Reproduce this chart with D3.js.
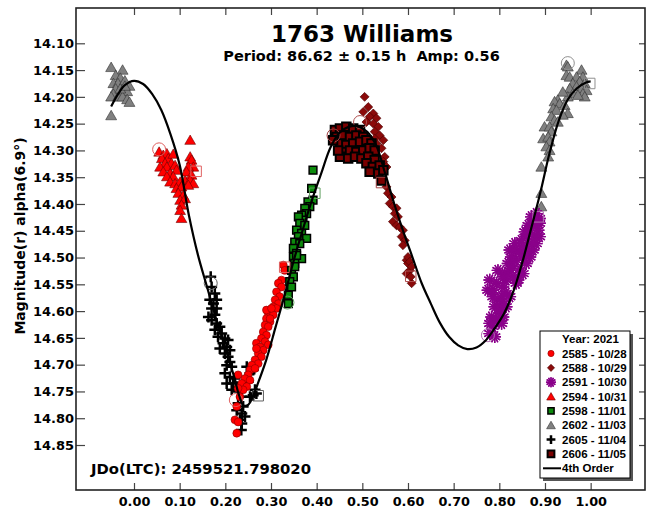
<!DOCTYPE html>
<html><head><meta charset="utf-8">
<script src="https://cdn.jsdelivr.net/npm/d3@7"></script>
<style>body{margin:0;background:#fff}svg{display:block}text{white-space:pre}</style>
</head><body><svg id="c" width="650" height="509"></svg>
<script>
// ---------- texts ----------
const titleText = "1763 Williams";
const subtitleText = "Period: 86.62 ± 0.15 h  Amp: 0.56";
const jdText = "JDo(LTC): 2459521.798020";
const yLabelText = "Magnitude(r) alpha(6.9°)";
const legendTitle = "Year: 2021";
const fitLabel = "4th Order";
const xTicks = [0,0.1,0.2,0.3,0.4,0.5,0.6,0.7,0.8,0.9,1.0];
const yTicks = [14.10,14.15,14.20,14.25,14.30,14.35,14.40,14.45,14.50,14.55,14.60,14.65,14.70,14.75,14.80,14.85];
const seriesNames = ["2585 - 10/28","2588 - 10/29","2591 - 10/30","2594 - 10/31","2598 - 11/01","2602 - 11/03","2605 - 11/04","2606 - 11/05"];

// ---------- data [phase, magnitude] ----------
const s2585 = [[0.327,14.514],[0.330,14.524],[0.323,14.542],[0.316,14.548],[0.323,14.555],[0.312,14.564],[0.319,14.573],[0.309,14.579],[0.316,14.586],[0.305,14.592],[0.312,14.595],[0.298,14.601],[0.294,14.604],[0.305,14.607],[0.290,14.614],[0.298,14.620],[0.287,14.626],[0.294,14.629],[0.283,14.639],[0.290,14.645],[0.279,14.651],[0.287,14.657],[0.268,14.660],[0.276,14.667],[0.294,14.663],[0.283,14.673],[0.272,14.679],[0.279,14.685],[0.265,14.691],[0.272,14.698],[0.258,14.701],[0.254,14.710],[0.265,14.707],[0.250,14.719],[0.243,14.726],[0.254,14.729],[0.236,14.735],[0.228,14.719],[0.247,14.741],[0.239,14.747],[0.228,14.744],[0.232,14.760],[0.225,14.778],[0.221,14.803],[0.228,14.807],[0.225,14.828],[0.290,14.598],[0.301,14.595],[0.298,14.614],[0.268,14.670]];
const s2588 = [[0.505,14.200],[0.513,14.219],[0.524,14.231],[0.502,14.228],[0.516,14.237],[0.531,14.240],[0.509,14.247],[0.524,14.250],[0.535,14.256],[0.527,14.265],[0.538,14.272],[0.546,14.281],[0.531,14.287],[0.542,14.296],[0.549,14.312],[0.546,14.321],[0.553,14.331],[0.553,14.368],[0.556,14.380],[0.564,14.387],[0.560,14.399],[0.567,14.405],[0.575,14.408],[0.571,14.418],[0.578,14.424],[0.567,14.433],[0.575,14.440],[0.582,14.443],[0.589,14.449],[0.586,14.461],[0.593,14.468],[0.589,14.477],[0.597,14.505],[0.600,14.511],[0.604,14.524],[0.597,14.530],[0.608,14.548],[0.600,14.499],[0.604,14.508],[0.608,14.517],[0.606,14.536],[0.527,14.278],[0.487,14.281],[0.502,14.287],[0.480,14.268],[0.495,14.300],[0.516,14.305]];
const s2591 = [[0.779,14.642],[0.786,14.629],[0.794,14.617],[0.783,14.611],[0.801,14.604],[0.790,14.592],[0.797,14.579],[0.805,14.573],[0.786,14.561],[0.794,14.548],[0.808,14.555],[0.815,14.542],[0.812,14.530],[0.823,14.524],[0.819,14.511],[0.830,14.517],[0.837,14.505],[0.826,14.499],[0.845,14.492],[0.837,14.486],[0.852,14.480],[0.848,14.468],[0.859,14.461],[0.856,14.452],[0.867,14.449],[0.863,14.440],[0.874,14.436],[0.881,14.430],[0.870,14.424],[0.888,14.427],[0.881,14.418],[0.779,14.542],[0.775,14.561],[0.786,14.573],[0.808,14.586],[0.801,14.598],[0.815,14.567],[0.830,14.536],[0.841,14.542],[0.845,14.524],[0.856,14.499],[0.863,14.486],[0.870,14.474],[0.877,14.461],[0.885,14.449],[0.888,14.436],[0.808,14.536],[0.797,14.524],[0.823,14.486],[0.834,14.474],[0.779,14.623],[0.790,14.648],[0.805,14.623],[0.808,14.611],[0.815,14.592],[0.823,14.573],[0.837,14.548],[0.852,14.530],[0.859,14.511],[0.867,14.499],[0.874,14.486],[0.881,14.474],[0.888,14.461]];
const s2594 = [[0.055,14.303],[0.064,14.309],[0.072,14.306],[0.061,14.315],[0.075,14.315],[0.086,14.307],[0.068,14.324],[0.082,14.324],[0.057,14.331],[0.072,14.331],[0.090,14.328],[0.064,14.340],[0.079,14.343],[0.093,14.337],[0.086,14.349],[0.072,14.349],[0.079,14.359],[0.090,14.362],[0.101,14.359],[0.112,14.356],[0.093,14.371],[0.104,14.368],[0.097,14.380],[0.108,14.384],[0.101,14.393],[0.112,14.390],[0.104,14.402],[0.101,14.412],[0.104,14.427],[0.123,14.281],[0.123,14.312],[0.126,14.318],[0.130,14.331],[0.119,14.331],[0.115,14.340],[0.126,14.346],[0.123,14.356],[0.130,14.362],[0.119,14.365]];
const s2598 = [[0.392,14.337],[0.389,14.371],[0.392,14.393],[0.381,14.396],[0.385,14.405],[0.374,14.408],[0.378,14.418],[0.367,14.421],[0.370,14.430],[0.360,14.424],[0.363,14.436],[0.374,14.440],[0.356,14.449],[0.367,14.455],[0.360,14.461],[0.378,14.464],[0.352,14.471],[0.363,14.474],[0.349,14.483],[0.356,14.492],[0.367,14.502],[0.349,14.499],[0.352,14.511],[0.345,14.524],[0.349,14.536],[0.341,14.545],[0.345,14.555],[0.356,14.496],[0.352,14.517],[0.338,14.570],[0.338,14.586]];
const s2602 = [[-0.05,14.145],[-0.025,14.150],[-0.04,14.160],[-0.03,14.165],[-0.045,14.175],[-0.035,14.175],[-0.02,14.170],[-0.01,14.180],[-0.04,14.185],[-0.03,14.190],[-0.045,14.195],[-0.015,14.190],[-0.05,14.200],[-0.035,14.200],[-0.025,14.200],[-0.015,14.205],[-0.01,14.210],[-0.05,14.235],[-0.03,14.185],[-0.02,14.180],
  [0.947,14.141],[0.950,14.144],[0.980,14.150],[0.947,14.160],[0.954,14.163],[0.969,14.163],[0.983,14.163],[0.976,14.172],[0.961,14.175],[0.987,14.175],[0.969,14.181],[0.980,14.185],[0.991,14.188],[0.983,14.194],[0.954,14.185],[0.961,14.194],[0.950,14.200],[0.939,14.191],[0.928,14.206],[0.921,14.209],[0.932,14.213],[0.943,14.216],[0.918,14.222],[0.925,14.225],[0.950,14.231],[0.939,14.234],[0.914,14.237],[0.921,14.244],[0.928,14.247],[0.899,14.256],[0.910,14.256],[0.914,14.265],[0.896,14.278],[0.907,14.275],[0.910,14.284],[0.903,14.293],[0.910,14.300],[0.907,14.312],[0.892,14.331],[0.892,14.380],[0.892,14.405],[0.987,14.200],[0.972,14.197]];
const s2605 = [[0.168,14.536],[0.170,14.555],[0.177,14.567],[0.166,14.579],[0.174,14.586],[0.181,14.579],[0.170,14.595],[0.181,14.595],[0.163,14.611],[0.177,14.607],[0.170,14.617],[0.181,14.623],[0.188,14.629],[0.177,14.635],[0.192,14.642],[0.184,14.648],[0.199,14.651],[0.206,14.654],[0.195,14.660],[0.203,14.667],[0.188,14.670],[0.210,14.673],[0.199,14.679],[0.206,14.685],[0.210,14.695],[0.203,14.701],[0.214,14.704],[0.199,14.716],[0.210,14.723],[0.221,14.726],[0.203,14.735],[0.217,14.735],[0.225,14.741],[0.214,14.747],[0.228,14.750],[0.239,14.738],[0.250,14.732],[0.254,14.716],[0.261,14.710],[0.247,14.704],[0.265,14.747],[0.268,14.754],[0.236,14.760],[0.228,14.772],[0.239,14.778],[0.225,14.785],[0.236,14.791],[0.243,14.797],[0.232,14.803],[0.236,14.810],[0.254,14.760],[0.261,14.757],[0.235,14.822]];
const s2606 = [[0.440,14.262],[0.451,14.259],[0.465,14.256],[0.480,14.259],[0.495,14.262],[0.444,14.275],[0.458,14.272],[0.473,14.275],[0.487,14.272],[0.502,14.275],[0.451,14.287],[0.465,14.290],[0.480,14.287],[0.495,14.284],[0.509,14.281],[0.520,14.287],[0.458,14.303],[0.473,14.300],[0.487,14.303],[0.502,14.300],[0.516,14.296],[0.527,14.300],[0.451,14.312],[0.469,14.315],[0.484,14.312],[0.498,14.315],[0.513,14.312],[0.527,14.318],[0.509,14.324],[0.523,14.331],[0.538,14.328],[0.516,14.340],[0.535,14.343],[0.546,14.337],[0.542,14.356],[0.436,14.281],[0.447,14.300]];
// start (circle) / end (square) session markers
const startMarks = [[0.223,14.766],[0.495,14.247],[0.775,14.645],[0.055,14.298],[0.336,14.584],[0.950,14.137],[0.168,14.548],[0.437,14.272]];
const endMarks = [[0.330,14.518],[0.606,14.535],[0.885,14.424],[0.136,14.339],[0.396,14.380],[0.998,14.175],[0.272,14.758],[0.542,14.360]];
// 4th order Fourier fit
const fitCurve = [[-0.05,14.218],[-0.035,14.195],[-0.02,14.178],[0.0,14.170],[0.02,14.176],[0.04,14.195],[0.06,14.225],[0.08,14.27],[0.10,14.327],[0.12,14.42],[0.14,14.495],[0.16,14.555],[0.18,14.615],[0.20,14.668],[0.22,14.725],[0.23,14.757],[0.24,14.776],[0.25,14.775],[0.26,14.76],[0.27,14.738],[0.29,14.69],[0.31,14.63],[0.33,14.57],[0.35,14.505],[0.37,14.447],[0.39,14.392],[0.41,14.343],[0.43,14.295],[0.45,14.267],[0.47,14.256],[0.49,14.255],[0.51,14.265],[0.53,14.29],[0.55,14.343],[0.57,14.40],[0.59,14.452],[0.61,14.50],[0.63,14.548],[0.65,14.586],[0.67,14.622],[0.69,14.648],[0.71,14.664],[0.73,14.671],[0.75,14.668],[0.77,14.655],[0.79,14.632],[0.81,14.605],[0.83,14.565],[0.85,14.51],[0.87,14.445],[0.89,14.378],[0.91,14.305],[0.93,14.245],[0.95,14.205],[0.97,14.184],[0.99,14.173],[1.00,14.171]];

// ---------- styles ----------
const styles = [
  {sym:"circle", fill:"#ff0000", stroke:"#8a0000", sw:0.6, size:48, hollow:"#e06060"},
  {sym:"diamond", fill:"#8b0a0a", stroke:"#4a0000", sw:0.6, size:40, hollow:"#b05050"},
  {sym:"asterisk", fill:"none", stroke:"#8a008a", sw:1.4, size:110, hollow:"#b070b0"},
  {sym:"triangle", fill:"#ff0000", stroke:"#700000", sw:0.6, size:50, hollow:"#e06060"},
  {sym:"square", fill:"#0c8a0c", stroke:"#000", sw:1.5, size:60, hollow:"#60a060"},
  {sym:"triangle", fill:"#808080", stroke:"#333", sw:0.6, size:52, hollow:"#909090"},
  {sym:"plus", fill:"none", stroke:"#000", sw:2.5, size:11, hollow:"#606060"},
  {sym:"square", fill:"#7a0000", stroke:"#000", sw:2, size:72, hollow:"#a04040"}
];
const allSeries = [s2585, s2588, s2591, s2594, s2598, s2602, s2605, s2606];

const svg = d3.select("#c");
const L=76, R=645, T=8, B=490;
const x = d3.scaleLinear().domain([-0.127,1.119]).range([L,R]);
const y = d3.scaleLinear().domain([14.0341,14.934]).range([T,B]);

function drawSym(g, st, scale){
  scale = scale||1;
  if(st.sym==="plus"){
    const h = st.size/2*scale;
    g.append("path").attr("d",`M${-h},0H${h}M0,${-h}V${h}`).attr("stroke",st.stroke).attr("stroke-width",st.sw).attr("fill","none");
  } else if(st.sym==="asterisk"){
    const p = d3.symbol(d3.symbolAsterisk, st.size*scale*scale)();
    [0,30,60,90].forEach(a=>{
      g.append("path").attr("d",p).attr("transform",`rotate(${a})`).attr("stroke",st.stroke).attr("stroke-width",st.sw).attr("fill","none");
    });
  } else {
    const t = st.sym==="circle"?d3.symbolCircle: st.sym==="triangle"?d3.symbolTriangle: d3.symbolSquare;
    const p = d3.symbol(t, st.size*scale*scale)();
    const e = g.append("path").attr("d",p).attr("fill",st.fill).attr("stroke",st.stroke).attr("stroke-width",st.sw);
    if(st.sym==="diamond") e.attr("transform","rotate(45)");
    if(st.sym==="triangle") e.attr("transform","translate(0,1)");
  }
}

// points
const drawOrder = [5,3,6,0,4,1,7,2];
const ptsG = svg.append("g");
drawOrder.forEach(i=>{
  const st = styles[i];
  allSeries[i].forEach(d=>{
    const g = ptsG.append("g").attr("transform",`translate(${x(d[0])},${y(d[1])})`);
    drawSym(g, st);
  });
});
// start/end hollow markers
startMarks.forEach((d,i)=>{
  svg.append("circle").attr("cx",x(d[0])).attr("cy",y(d[1])).attr("r",6.5)
    .attr("fill","none").attr("stroke",styles[i].hollow).attr("stroke-width",1);
});
endMarks.forEach((d,i)=>{
  svg.append("path").attr("d",d3.symbol(d3.symbolSquare,110)()).attr("transform",`translate(${x(d[0])},${y(d[1])})`)
    .attr("fill","none").attr("stroke",styles[i].hollow).attr("stroke-width",1);
});

// fit curve
svg.append("path").datum(fitCurve)
  .attr("d", d3.line().x(d=>x(d[0])).y(d=>y(d[1])).curve(d3.curveCatmullRom))
  .attr("fill","none").attr("stroke","#000").attr("stroke-width",2.2);

// axes
const fmt = d3.format(".2f");
const axL = svg.append("g").attr("transform",`translate(${L},0)`)
  .call(d3.axisLeft(y).tickValues(yTicks).tickFormat(fmt).tickSize(-9).tickPadding(2));
const axR = svg.append("g").attr("transform",`translate(${R},0)`)
  .call(d3.axisRight(y).tickValues(yTicks).tickFormat("").tickSize(-6));
const axB = svg.append("g").attr("transform",`translate(0,${B})`)
  .call(d3.axisBottom(x).tickValues(xTicks).tickFormat(fmt).tickSize(-7).tickPadding(7));
const axT = svg.append("g").attr("transform",`translate(0,${T})`)
  .call(d3.axisTop(x).tickValues(xTicks).tickFormat("").tickSize(-7));
[axL,axR,axB,axT].forEach(a=>{
  a.select(".domain").remove();
  a.selectAll(".tick line").attr("stroke","#444").attr("stroke-width",1.2);
  a.selectAll("text").attr("fill","#000").attr("font-family","DejaVu Sans").attr("font-weight","bold");
});
axL.selectAll("text").attr("font-size",13);
axB.selectAll("text").attr("font-size",12.8);

svg.append("rect").attr("x",L).attr("y",T).attr("width",R-L).attr("height",B-T)
  .attr("fill","none").attr("stroke","#222").attr("stroke-width",1.6);

// titles
svg.append("text").attr("x",362).attr("y",42).attr("text-anchor","middle")
  .attr("font-family","DejaVu Sans").attr("font-weight","bold").attr("font-size",23).text(titleText);
svg.append("text").attr("x",361.5).attr("y",60.5).attr("text-anchor","middle")
  .attr("font-family","DejaVu Sans").attr("font-weight","bold").attr("font-size",14.5).text(subtitleText);
svg.append("text").attr("x",91).attr("y",474)
  .attr("font-family","DejaVu Sans").attr("font-weight","bold").attr("font-size",14.8).text(jdText);
svg.append("text").attr("transform","translate(25,236) rotate(-90)").attr("text-anchor","middle")
  .attr("font-family","DejaVu Sans").attr("font-weight","bold").attr("font-size",14).text(yLabelText);

// legend
const lg = svg.append("g");
const lx=540, ly=331, lw=90, lh=147;
lg.append("rect").attr("x",lx+3).attr("y",ly+3).attr("width",lw).attr("height",lh).attr("fill","#555");
lg.append("rect").attr("x",lx).attr("y",ly).attr("width",lw).attr("height",lh).attr("fill","#fff").attr("stroke","#000").attr("stroke-width",1);
const lfont = t=>t.attr("font-family","Liberation Sans, Arial").attr("font-weight","bold").attr("font-size",11.5).attr("fill","#000");
lfont(lg.append("text").attr("x",562).attr("y",343).text(legendTitle));
seriesNames.forEach((n,i)=>{
  const cy = 353.5 + i*14.35;
  const g = lg.append("g").attr("transform",`translate(551,${cy})`);
  drawSym(g, styles[i], 0.8);
  lfont(lg.append("text").attr("x",562).attr("y",cy+4).text(n));
});
const fy = 353.5 + 8*14.35;
lg.append("line").attr("x1",543).attr("x2",561).attr("y1",fy).attr("y2",fy).attr("stroke","#000").attr("stroke-width",2);
lfont(lg.append("text").attr("x",562).attr("y",fy+4).text(fitLabel));
</script></body></html>
